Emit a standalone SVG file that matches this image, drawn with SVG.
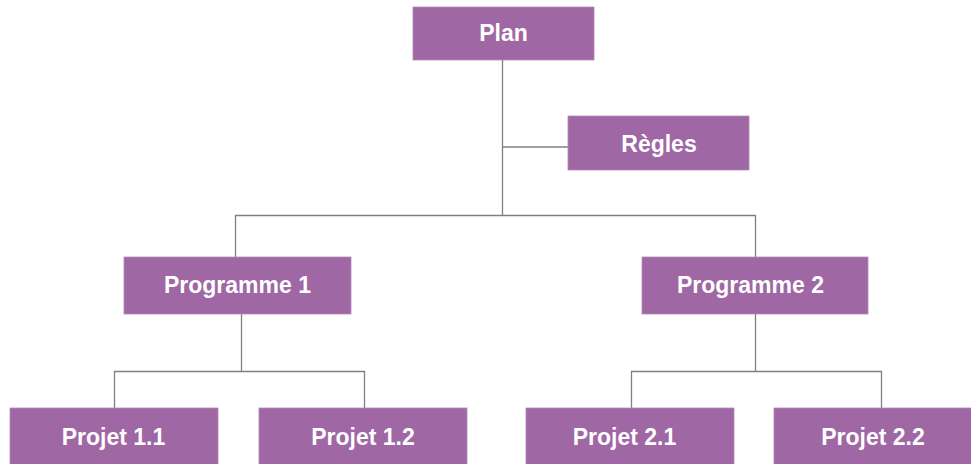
<svg xmlns="http://www.w3.org/2000/svg" width="971" height="464" viewBox="0 0 971 464">
<style>
.box{fill:#A067A5;stroke:#B58AB8;stroke-width:0.8}
.lbl{fill:#FFFFFF;font-family:"Liberation Sans",Arial,sans-serif;font-weight:bold;font-size:23px;text-anchor:middle}
.con{fill:none;stroke:#7F7F7F;stroke-width:1.3}
</style>
<rect width="971" height="464" fill="#FFFFFF"/>
<g id="connectors">
<path class="con" d="M502.5,60 V215"/>
<path class="con" d="M502.5,147 H568"/>
<path class="con" d="M235.5,257 V215.5 H755.5 V257"/>
<path class="con" d="M241.5,314 V371"/>
<path class="con" d="M114.5,408 V371.5 H364.5 V408"/>
<path class="con" d="M755.5,314 V371"/>
<path class="con" d="M631.5,408 V371.5 H881.5 V408"/>
</g>
<g id="plan"><rect class="box" x="413" y="7" width="181" height="53"/><text class="lbl" x="503.5" y="41">Plan</text></g>
<g id="regles"><rect class="box" x="568" y="116" width="181" height="54"/><text class="lbl" x="659" y="151.5">Règles</text></g>
<g id="programme1"><rect class="box" x="124" y="257" width="227" height="57"/><text class="lbl" x="237.5" y="292.5">Programme 1</text></g>
<g id="programme2"><rect class="box" x="642" y="257" width="226" height="57"/><text class="lbl" x="750.5" y="292.5">Programme 2</text></g>
<g id="projet11"><rect class="box" x="10" y="408" width="208" height="60"/><text class="lbl" x="113.5" y="445">Projet 1.1</text></g>
<g id="projet12"><rect class="box" x="259" y="408" width="208" height="60"/><text class="lbl" x="363" y="445">Projet 1.2</text></g>
<g id="projet21"><rect class="box" x="526" y="408" width="208" height="60"/><text class="lbl" x="624.5" y="445">Projet 2.1</text></g>
<g id="projet22"><rect class="box" x="774" y="408" width="208" height="60"/><text class="lbl" x="873" y="445">Projet 2.2</text></g>
</svg>
